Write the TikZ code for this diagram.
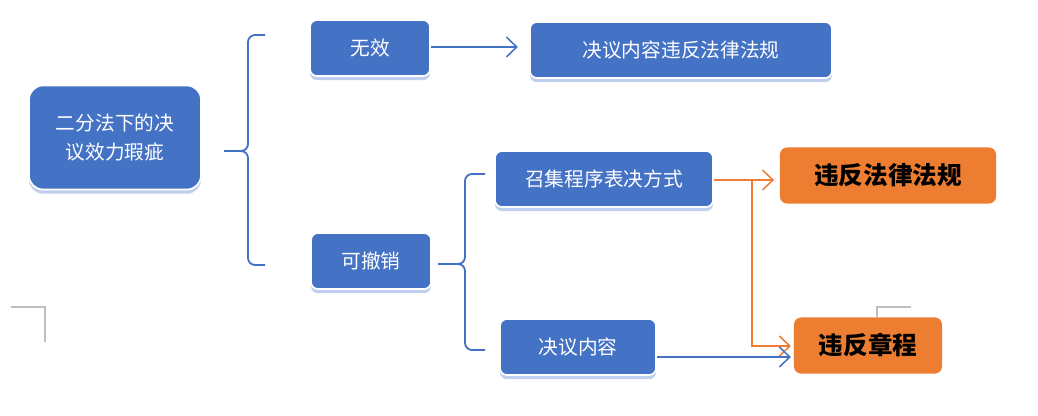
\documentclass[tikz,border=0pt]{standalone}
\usepackage{fontspec}
\usepackage{tikz}
\usetikzlibrary{arrows.meta, positioning, calc, shadows}
\newfontfamily\cjk{Noto Sans CJK SC}
\definecolor{officeblue}{RGB}{68, 114, 196}
\definecolor{officeorange}{RGB}{237, 125, 49}
\definecolor{shadowblue}{RGB}{150, 175, 225}
\definecolor{markgray}{RGB}{191, 191, 191}
\tikzset{
  flowarrow_blue/.style={-{Straight Barb[length=2.6mm, width=5mm]}, line width=1.1pt, officeblue},
  flowarrow_orange/.style={-{Straight Barb[length=2.6mm, width=5mm]}, line width=1.1pt, officeorange},
  bracket/.style={line width=1.3pt, officeblue, rounded corners=5pt}
}
\begin{document}
\begin{tikzpicture}[x=0.025cm, y=-0.025cm,
    bluebox/.style={rectangle, draw=white, line width=1.2pt, fill=officeblue, rounded corners=5pt, text=white, font=\cjk\fontsize{14}{20}\selectfont, align=center, minimum height=1.4cm, drop shadow={shadow xshift=0pt, shadow yshift=-3pt, fill=shadowblue, opacity=0.6}},
    orangebox/.style={rectangle, fill=officeorange, rounded corners=5pt, text=black, font=\cjk\bfseries\fontsize{17.5}{20}\selectfont, align=center, minimum height=1.4cm}
]
    \useasboundingbox (0,0) rectangle (1038,415);

    % Root
    \node[bluebox, rounded corners=10pt, minimum width=4.3cm, minimum height=2.6cm] (root) at (115, 137.5) {二分法下的决\\议效力瑕疵};

    % First level
    \node[bluebox, minimum width=3cm] (wuxiao) at (370, 48) {无效};
    \node[bluebox, minimum width=3cm] (kechexiao) at (371, 261) {可撤销};

    % Second level
    \node[bluebox, minimum width=7.55cm] (weifa) at (681, 50) {决议内容违反法律法规};
    \node[bluebox, minimum width=5.45cm] (zhaoji) at (604, 179) {召集程序表决方式};
    \node[bluebox, minimum width=3.9cm] (neirong) at (578, 347) {决议内容};

    % Results
    \node[orangebox, minimum width=5.4cm] (falv) at (888, 175.5) {违反法律法规};
    \node[orangebox, minimum width=3.7cm] (zhangcheng) at (868, 345.5) {违反章程};

    % Brace from root
    \coordinate (rootTip) at (224, 151);
    \coordinate (rootTop) at (265, 35);
    \coordinate (rootBot) at (265, 265);
    \draw[bracket] (rootTop) -- (248, 35) -- (248, 151) -- (rootTip);
    \draw[bracket] (rootBot) -- (248, 265) -- (248, 151) -- (rootTip);

    % Brace from kechexiao
    \coordinate (kcxTip) at (438, 264);
    \coordinate (kcxTop) at (485, 174);
    \coordinate (kcxBot) at (485, 350);
    \draw[bracket] (kcxTop) -- (465, 174) -- (465, 264) -- (kcxTip);
    \draw[bracket] (kcxBot) -- (465, 350) -- (465, 264) -- (kcxTip);

    % Arrows
    \draw[flowarrow_blue, shorten >=8] (wuxiao.east |- 0, 47) -- (weifa.west |- 0, 47);
    \draw[flowarrow_orange, shorten >=4] (zhaoji.east |- 0, 180) -- (falv.west |- 0, 180);
    \coordinate (split) at (752, 180);
    \draw[flowarrow_orange, shorten >=2] (split) |- (zhangcheng.west |- 0, 346);
    \draw[flowarrow_blue, shorten >=2] (neirong.east |- 0, 357) -- (zhangcheng.west |- 0, 357);

    % Page margin marks
    \draw[markgray, line width=0.8pt] (11, 307) -- (45, 307) -- (45, 342);
    \draw[markgray, line width=0.8pt] (911, 307) -- (877, 307) -- (877, 318);
\end{tikzpicture}
\end{document}
